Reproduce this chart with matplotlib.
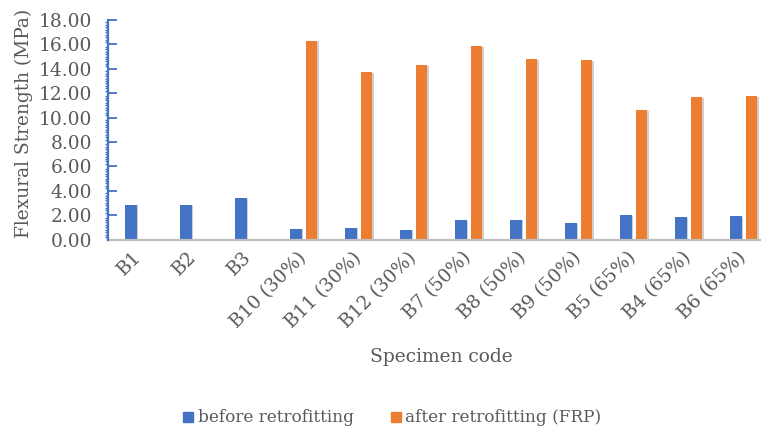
import numpy as np
import matplotlib
matplotlib.use("Agg")
import matplotlib.pyplot as plt
import matplotlib.patheffects as pe
from matplotlib.ticker import MultipleLocator, FormatStrFormatter
from matplotlib.lines import Line2D

specimens = ["B1", "B2", "B3", "B10 (30%)", "B11 (30%)", "B12 (30%)",
             "B7 (50%)", "B8 (50%)", "B9 (50%)", "B5 (65%)", "B4 (65%)", "B6 (65%)"]
before = [2.87, 2.87, 3.39, 0.90, 0.98, 0.82, 1.56, 1.64, 1.34, 1.97, 1.81, 1.89]
after = [0, 0, 0, 16.30, 13.73, 14.28, 15.87, 14.80, 14.72, 10.62, 11.68, 11.76]

blue = "#4472C4"
orange = "#ED7D31"
grey = "#595959"

plt.rcParams["font.family"] = ["DejaVu Serif"]
plt.rcParams["font.size"] = 13.4

fig = plt.figure(figsize=(7.61, 4.32), dpi=100)
ax = fig.add_axes([107.7 / 761, 0.4456, 1 - 107.7 / 761, 0.5081])

x = np.arange(len(specimens))
w = 0.213
off = 0.143
shadow = [pe.SimplePatchShadow(offset=(0.9, -0.4), shadow_rgbFace="#b0b0b0", alpha=0.6), pe.Normal()]
b1 = ax.bar(x - off, before, w, color=blue, zorder=2)
b2 = ax.bar(x + off, after, w, color=orange, zorder=2)
for r in list(b1) + list(b2):
    if r.get_height() > 0:
        r.set_path_effects(shadow)

ax.set_xlim(-0.56, (761 - 138.7) / 55.0)
ax.set_ylim(0, 18)
ax.yaxis.set_major_locator(MultipleLocator(2))
ax.yaxis.set_minor_locator(MultipleLocator(0.2))
ax.yaxis.set_major_formatter(FormatStrFormatter("%.2f"))

for s in ["top", "right"]:
    ax.spines[s].set_visible(False)
ax.spines["left"].set_color(blue)
ax.spines["left"].set_linewidth(1.6)
ax.spines["bottom"].set_color("#BFBFBF")
ax.spines["bottom"].set_linewidth(1.6)
ax.spines["left"].set_zorder(3)

ax.tick_params(axis="y", which="major", direction="in", length=6.5, width=1.3,
               color=blue, labelcolor=grey, pad=11)
ax.tick_params(axis="y", which="minor", direction="out", length=2.2, width=1.0, color=blue)

ax.set_xticks(x)
ax.set_xticklabels(specimens, rotation=45, ha="right", va="center",
                   rotation_mode="anchor", color=grey)
ax.tick_params(axis="x", length=0, pad=11)

ax.set_ylabel("Flexural Strength (MPa)", color=grey)
ax.yaxis.set_label_coords(-0.114, 0.527)
ax.set_xlabel("Specimen code", color=grey)
ax.xaxis.set_label_coords((441.7 - 107.7) / (761 - 107.7), -0.494)

handles = [Line2D([], [], marker="s", linestyle="none", markersize=7.5, color=blue),
           Line2D([], [], marker="s", linestyle="none", markersize=7.5, color=orange)]
leg = fig.legend(handles, ["before retrofitting", "after retrofitting (FRP)"],
                 loc="center", bbox_to_anchor=(392.5 / 761, 1 - 418 / 432), ncol=2,
                 frameon=False, handlelength=0.6, handletextpad=0.25, columnspacing=2.2,
                 labelcolor=grey, fontsize=12.2)

fig.savefig("out.png", dpi=100)
